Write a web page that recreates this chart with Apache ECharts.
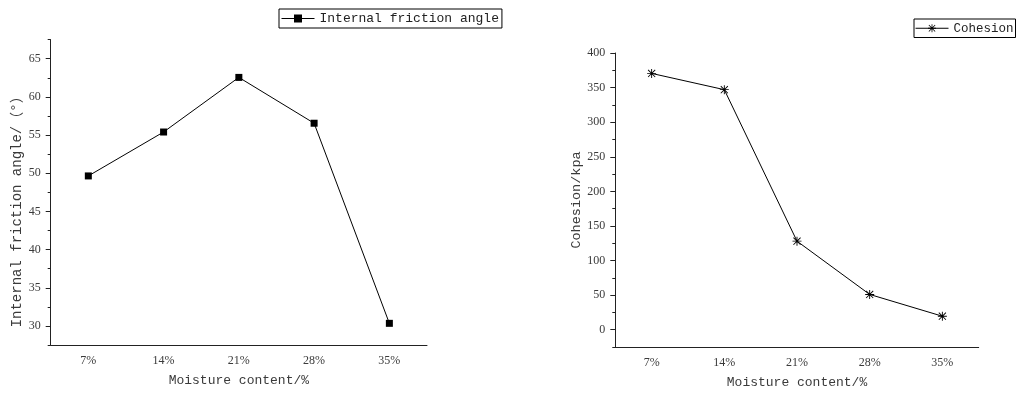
<!DOCTYPE html>
<html>
<head>
<meta charset="utf-8">
<script src="https://cdn.jsdelivr.net/npm/echarts@6/dist/echarts.min.js"></script>
<style>
  html, body { margin: 0; padding: 0; background: #fff; }
  #chart { width: 1018px; height: 394px; }
</style>
</head>
<body>
<div id="chart"></div>
<script>
  // moisture content categories
  var moisture = ['7%', '14%', '21%', '28%', '35%'];
  // internal friction angle (deg)
  var frictionAngle = [49.65, 55.4, 62.55, 56.55, 30.35];
  // cohesion (kpa)
  var cohesion = [370.5, 347, 128, 51, 19.5];
  // major tick labels
  var angleTicks = [30, 35, 40, 45, 50, 55, 60, 65];
  var cohesionTicks = [0, 50, 100, 150, 200, 250, 300, 350, 400];

  var monoFont = '"Liberation Mono", "Noto Sans CJK SC", monospace';
  var serifFont = '"Liberation Serif", serif';
  var txtColor = '#3a3a3a';
  var axisColor = '#222';

  // asterisk marker made of four thin bars
  var starPath = 'path://M4.5 0L5.5 0L5.5 10L4.5 10Z M0 4.5L10 4.5L10 5.5L0 5.5Z ' +
    'M0.7 1.4L1.4 0.7L9.3 8.6L8.6 9.3Z M8.6 0.7L9.3 1.4L1.4 9.3L0.7 8.6Z';

  function catAxis(grid, withLabels) {
    var ax = {
      type: 'category',
      gridIndex: grid,
      data: moisture,
      position: 'bottom',
      boundaryGap: true,
      axisLine: { show: withLabels, onZero: false, lineStyle: { color: axisColor, width: 1 } },
      splitLine: { show: false }
    };
    if (withLabels) {
      ax.axisTick = { alignWithLabel: true, length: 5, lineStyle: { color: axisColor } };
      ax.axisLabel = { color: txtColor, fontFamily: serifFont, fontSize: 12, margin: 10 };
      ax.name = 'Moisture content/%';
      ax.nameLocation = 'middle';
      ax.nameGap = 29;
      ax.nameTextStyle = { color: txtColor, fontFamily: monoFont, fontSize: 13 };
    } else {
      ax.axisTick = { length: 3, lineStyle: { color: axisColor } };
      ax.axisLabel = { show: false };
    }
    return ax;
  }

  var chart = echarts.init(document.getElementById('chart'));
  chart.setOption({
    backgroundColor: '#fff',
    animation: false,
    grid: [
      { left: 50.7, top: 39.6, width: 376.3, height: 305.5 },
      { left: 615.3, top: 53, width: 363.4, height: 294.5 }
    ],
    legend: [
      {
        data: ['Internal friction angle'],
        left: 279, top: 9,
        padding: [3, 3, 3, 2],
        itemWidth: 33, itemHeight: 10,
        borderColor: '#000', borderWidth: 1,
        lineStyle: { width: 1 },
        textStyle: { color: '#222', fontFamily: monoFont, fontSize: 13 }
      },
      {
        data: ['Cohesion'],
        left: 914, top: 19,
        padding: [3, 2, 3, 1],
        itemWidth: 33, itemHeight: 10,
        borderColor: '#000', borderWidth: 1,
        lineStyle: { width: 1 },
        textStyle: { color: '#222', fontFamily: monoFont, fontSize: 12.5 }
      }
    ],
    xAxis: [catAxis(0, true), catAxis(0, false), catAxis(1, true), catAxis(1, false)],
    yAxis: [
      {
        type: 'value', gridIndex: 0, position: 'left',
        min: 27.5, max: 67.5, interval: 2.5,
        axisLine: { show: true, lineStyle: { color: axisColor } },
        axisTick: { show: true, length: 3, lineStyle: { color: axisColor } },
        axisLabel: { show: false },
        splitLine: { show: false }
      },
      {
        type: 'value', gridIndex: 0, position: 'left',
        min: 27.5, max: 67.5,
        axisLine: { show: false },
        axisTick: { show: true, length: 5, customValues: angleTicks, lineStyle: { color: axisColor } },
        axisLabel: { color: txtColor, fontFamily: serifFont, fontSize: 12, margin: 10, customValues: angleTicks },
        splitLine: { show: false },
        name: 'Internal friction angle/（°）',
        nameLocation: 'middle',
        nameGap: 26,
        nameTextStyle: { color: txtColor, fontFamily: monoFont, fontSize: 14, padding: [0, 32, 0, 0] }
      },
      {
        type: 'value', gridIndex: 1, position: 'left',
        min: -25, max: 400, interval: 25,
        axisLine: { show: true, lineStyle: { color: axisColor } },
        axisTick: { show: true, length: 3, lineStyle: { color: axisColor } },
        axisLabel: { show: false },
        splitLine: { show: false }
      },
      {
        type: 'value', gridIndex: 1, position: 'left',
        min: -25, max: 400,
        axisLine: { show: false },
        axisTick: { show: true, length: 5, customValues: cohesionTicks, lineStyle: { color: axisColor } },
        axisLabel: { color: txtColor, fontFamily: serifFont, fontSize: 12, margin: 10, customValues: cohesionTicks },
        splitLine: { show: false },
        name: 'Cohesion/kpa',
        nameLocation: 'middle',
        nameGap: 31,
        nameTextStyle: { color: txtColor, fontFamily: monoFont, fontSize: 13.5 }
      }
    ],
    series: [
      {
        name: 'Internal friction angle',
        type: 'line',
        xAxisIndex: 0, yAxisIndex: 0,
        data: frictionAngle,
        symbol: 'rect', symbolSize: 7,
        lineStyle: { color: '#000', width: 1 },
        itemStyle: { color: '#000' }
      },
      {
        name: 'Cohesion',
        type: 'line',
        xAxisIndex: 2, yAxisIndex: 2,
        data: cohesion,
        symbol: starPath, symbolSize: 9,
        lineStyle: { color: '#000', width: 1 },
        itemStyle: { color: '#000' }
      }
    ]
  });
</script>
</body>
</html>
